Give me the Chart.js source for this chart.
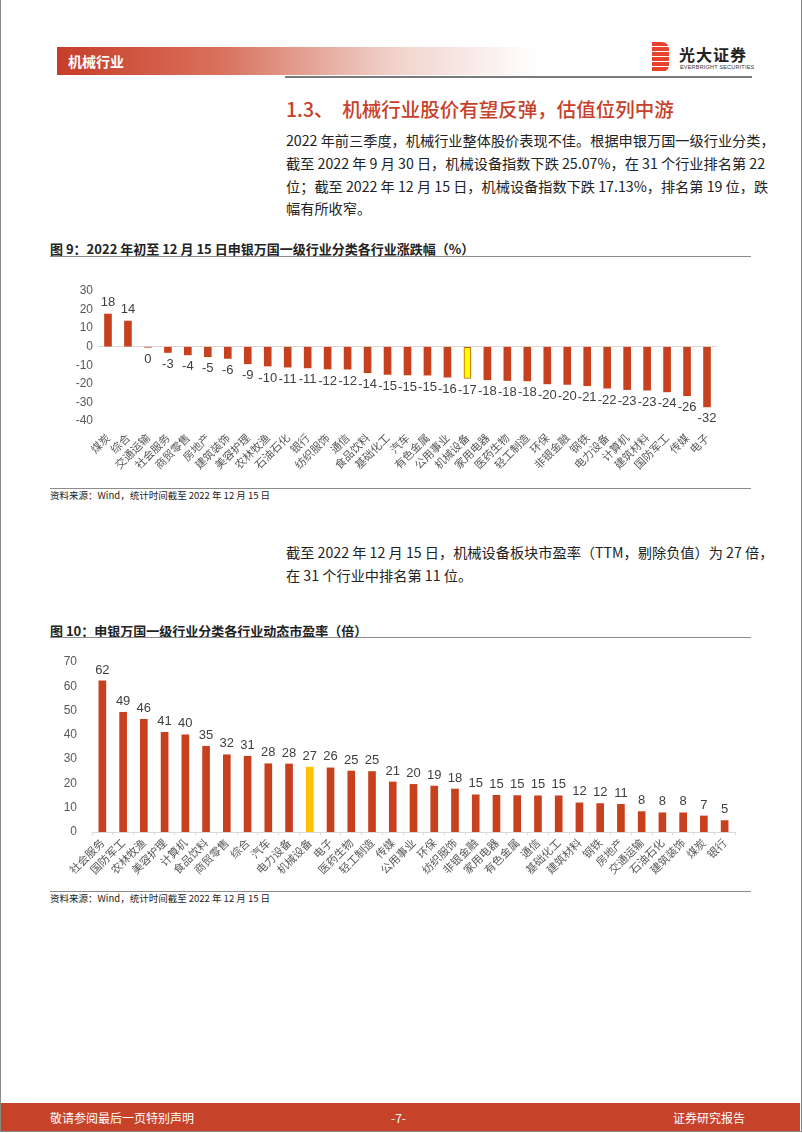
<!DOCTYPE html>
<html>
<head>
<meta charset="utf-8">
<script src="https://cdn.jsdelivr.net/npm/chart.js@4.4.1/dist/chart.umd.min.js"></script>
<style>
  html, body { margin: 0; padding: 0; background: #fff; }
  body { width: 802px; height: 1133px; position: relative; overflow: hidden;
         font-family: "Noto Sans CJK SC", "Noto Sans", sans-serif; color: #222; }
  .abs { position: absolute; }
  .frame { left: 0; top: 0; width: 800px; height: 1131px; border: 1px solid #8a8a8a; border-top: none; }
  .band { left: 57px; top: 47px; width: 480px; height: 28px;
          background: linear-gradient(to right, #c63d27 0%, #d9735f 35%, #f1d2cb 70%, rgba(255,255,255,0) 100%); }
  .band span { position: absolute; left: 11px; top: 4px; color: #fff; font-size: 14px; font-weight: 700; }
  .hline { left: 285px; top: 76px; width: 467px; height: 2px; background: #7a7a7a; }
  .logo-icon { left: 652px; top: 42px; width: 17px; height: 30px;
               background: repeating-linear-gradient(to bottom, #e8412c 0 4px, #fff 4px 5px); border-radius: 0 7px 7px 0; }
  .logo-cn { left: 679px; top: 42px; font-size: 16px; font-weight: 700; color: #222; letter-spacing: 1px; }
  .logo-en { left: 680px; top: 64px; font-size: 5.5px; font-family: "Liberation Sans", sans-serif; color: #333; letter-spacing: 0.2px; }
  .h2 { left: 286px; top: 94px; font-size: 19.5px; color: #c8402a; font-weight: 500; white-space: nowrap; }
  .para { left: 286px; font-size: 14.2px; line-height: 22.8px; color: #222; white-space: nowrap; }
  .ftitle { left: 50px; font-size: 13px; font-weight: 700; color: #222; white-space: nowrap; }
  .rule { left: 50px; width: 701px; height: 1px; background: #8c8c8c; }
  .src { left: 50px; font-size: 9.5px; color: #222; white-space: nowrap; }
  .footer { left: 1px; top: 1103px; width: 799px; height: 28px; background: #c6432a; color: #fff; font-size: 12px; }
  .footer span { position: absolute; top: 6px; }
</style>
</head>
<body>
<div class="abs frame"></div>
<div class="abs band"><span>机械行业</span></div>
<div class="abs hline"></div>
<div class="abs logo-icon"></div>
<div class="abs logo-cn">光大证券</div>
<div class="abs logo-en">EVERBRIGHT SECURITIES</div>

<div class="abs h2">1.3、&nbsp;&nbsp;机械行业股价有望反弹，估值位列中游</div>
<div class="abs para" style="top:129px">
  2022 年前三季度，机械行业整体股价表现不佳。根据申银万国一级行业分类，<br>
  截至 2022 年 9 月 30 日，机械设备指数下跌 25.07%，在 31 个行业排名第 22<br>
  位；截至 2022 年 12 月 15 日，机械设备指数下跌 17.13%，排名第 19 位，跌<br>
  幅有所收窄。
</div>

<div class="abs ftitle" style="top:239px">图 9：2022 年初至 12 月 15 日申银万国一级行业分类各行业涨跌幅（%）</div>
<div class="abs rule" style="top:256px"></div>
<div class="abs" style="left:50px; top:262px; width:700px; height:220px;"><canvas id="c1"></canvas></div>
<div class="abs rule" style="top:488px"></div>
<div class="abs src" style="top:488px">资料来源：Wind，统计时间截至 2022 年 12 月 15 日</div>

<div class="abs para" style="top:541px">
  截至 2022 年 12 月 15 日，机械设备板块市盈率（TTM，剔除负值）为 27 倍，<br>
  在 31 个行业中排名第 11 位。
</div>

<div class="abs ftitle" style="top:621px">图 10：申银万国一级行业分类各行业动态市盈率（倍）</div>
<div class="abs rule" style="top:637px"></div>
<div class="abs" style="left:40px; top:640px; width:720px; height:250px;"><canvas id="c2"></canvas></div>
<div class="abs rule" style="top:891px"></div>
<div class="abs src" style="top:891px">资料来源：Wind，统计时间截至 2022 年 12 月 15 日</div>

<div class="abs footer">
  <span style="left:49px">敬请参阅最后一页特别声明</span>
  <span style="left:390px">-7-</span>
  <span style="right:55px">证券研究报告</span>
</div>

<script>
// 图9：年初至今涨跌幅
const changeLabels = ['煤炭', '综合', '交通运输', '社会服务', '商贸零售', '房地产', '建筑装饰', '美容护理',
  '农林牧渔', '石油石化', '银行', '纺织服饰', '通信', '食品饮料', '基础化工', '汽车', '有色金属',
  '公用事业', '机械设备', '家用电器', '医药生物', '轻工制造', '环保', '非银金融', '钢铁', '电力设备',
  '计算机', '建筑材料', '国防军工', '传媒', '电子'];
const changeValues = [17.6, 13.8, -0.3, -3.1, -4.4, -5.4, -6.3, -9.2, -10.4, -11.0, -11.4, -12.0, -12.1,
  -14.0, -14.9, -15.2, -15.3, -16.4, -17.1, -17.8, -18.2, -18.4, -20.0, -20.3, -21.0, -22.3, -23.1,
  -23.4, -24.3, -26.4, -32.4];
const changeTicks = [-40, -30, -20, -10, 0, 10, 20, 30];

// 图10：动态市盈率
const peLabels = ['社会服务', '国防军工', '农林牧渔', '美容护理', '计算机', '食品饮料', '商贸零售', '综合',
  '汽车', '电力设备', '机械设备', '电子', '医药生物', '轻工制造', '传媒', '公用事业', '环保', '纺织服饰',
  '非银金融', '家用电器', '有色金属', '通信', '基础化工', '建筑材料', '钢铁', '房地产', '交通运输',
  '石油石化', '建筑装饰', '煤炭', '银行'];
const peValues = [62.2, 49.3, 46.4, 41.0, 40.0, 35.3, 31.8, 31.2, 28.1, 28.0, 26.7, 26.4, 25.1, 24.9,
  20.6, 19.6, 18.9, 17.7, 15.3, 15.1, 15.0, 14.9, 14.9, 12.0, 11.7, 11.4, 8.4, 7.9, 7.9, 6.6, 4.7];
const peTicks = [0, 10, 20, 30, 40, 50, 60, 70];

const highlight = '机械设备';
const RED = '#c8411f';

// 数值标签：正值在柱顶上方，负值在柱底下方
const valueLabels = {
  id: 'valueLabels',
  afterDatasetsDraw(chart, args, opts) {
    const ctx = chart.ctx;
    const meta = chart.getDatasetMeta(0);
    const data = chart.data.datasets[0].data;
    ctx.save();
    ctx.font = '13px "Liberation Sans", Arial, sans-serif';
    ctx.fillStyle = '#404040';
    ctx.textAlign = 'center';
    ctx.textBaseline = 'middle';
    meta.data.forEach((bar, i) => {
      const v = data[i];
      const txt = String(Math.round(v));
      const y = v >= 0 ? bar.y - opts.gap : bar.y + opts.gap;
      ctx.fillText(txt, bar.x, y);
    });
    ctx.restore();
  }
};

const tickFont = { family: '"Liberation Sans", Arial, sans-serif', size: 12 };
const catFont = { family: '"Noto Sans CJK SC", sans-serif', size: 11 };

new Chart(document.getElementById('c1'), {
  type: 'bar',
  data: {
    labels: changeLabels,
    datasets: [{
      data: changeValues,
      backgroundColor: changeLabels.map(l => l === highlight ? '#ffff00' : RED),
      borderColor: changeLabels.map(l => l === highlight ? '#c55a11' : RED),
      borderWidth: changeLabels.map(l => l === highlight ? 1 : 0),
      borderSkipped: false,
      barThickness: 7
    }]
  },
  options: {
    responsive: true,
    maintainAspectRatio: false,
    animation: false,
    layout: { padding: { top: 29, right: 33, left: 0, bottom: 0 } },
    plugins: {
      legend: { display: false },
      tooltip: { enabled: false },
      valueLabels: { gap: 12 }
    },
    scales: {
      x: {
        grid: { display: false },
        border: { display: false },
        ticks: {
          autoSkip: false, maxRotation: 45, minRotation: 45,
          font: catFont, color: '#595959', padding: 2
        },
        afterFit(scale) { scale.height = 61; }
      },
      y: {
        min: -40, max: 30,
        afterBuildTicks(scale) { scale.ticks = changeTicks.map(v => ({ value: v })); },
        grid: {
          drawTicks: false,
          color: c => (c.tick && c.tick.value === 0) ? '#d9d9d9' : 'rgba(0,0,0,0)'
        },
        border: { display: false },
        ticks: { font: tickFont, color: '#595959', padding: 5 },
        afterFit(scale) { scale.width = 48; }
      }
    }
  },
  plugins: [valueLabels]
});

new Chart(document.getElementById('c2'), {
  type: 'bar',
  data: {
    labels: peLabels,
    datasets: [{
      data: peValues,
      backgroundColor: peLabels.map(l => l === highlight ? '#ffc000' : RED),
      borderWidth: 0,
      barThickness: 7
    }]
  },
  options: {
    responsive: true,
    maintainAspectRatio: false,
    animation: false,
    layout: { padding: { top: 22, right: 25, left: 0, bottom: 0 } },
    plugins: {
      legend: { display: false },
      tooltip: { enabled: false },
      valueLabels: { gap: 11 }
    },
    scales: {
      x: {
        grid: { drawOnChartArea: false, drawTicks: true, tickLength: 3, color: '#d9d9d9' },
        border: { display: true, color: '#d9d9d9' },
        ticks: {
          autoSkip: false, maxRotation: 45, minRotation: 45,
          font: catFont, color: '#595959', padding: 1
        },
        afterFit(scale) { scale.height = 58; }
      },
      y: {
        min: 0, max: 70,
        afterBuildTicks(scale) { scale.ticks = peTicks.map(v => ({ value: v })); },
        grid: { display: false },
        border: { display: false },
        ticks: { font: tickFont, color: '#595959', padding: 7 },
        afterFit(scale) { scale.width = 52; }
      }
    }
  },
  plugins: [valueLabels]
});
</script>
</body>
</html>
